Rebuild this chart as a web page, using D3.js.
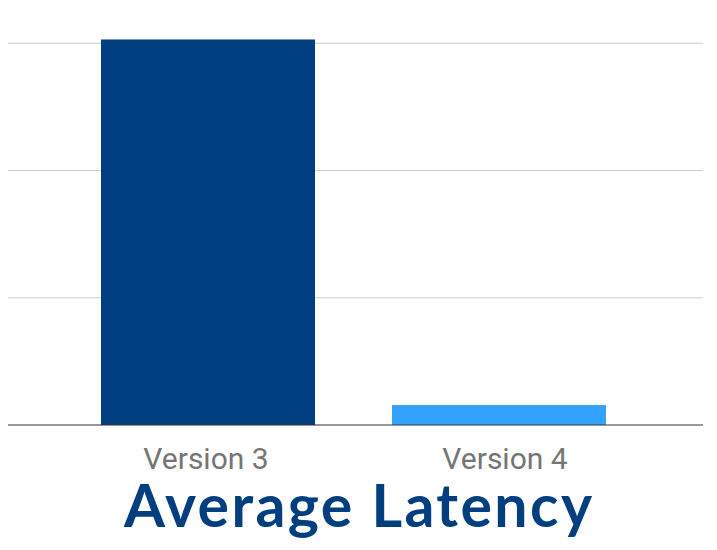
<!DOCTYPE html>
<html><head><meta charset="utf-8">
<script src="https://cdn.jsdelivr.net/npm/d3@7"></script>
<style>body{margin:0;background:#fff}svg{display:block}</style>
</head><body>
<svg id="c" width="717" height="550"></svg>
<script>
const categories = ["Version 3", "Version 4"];
const values = [3.03, 0.157];
const colors = ["#003f7f", "#33a3ff"];
const yTicks = [0, 1, 2, 3];
const title = "Average Latency";

(function () {
const svg = d3.select("#c");
const mLeft = 8, mRight = 703, mTop = 43.3, mBottom = 425;
const y = d3.scaleLinear().domain([0, 3]).range([mBottom, mTop]);
const x = d3.scaleBand().domain(categories).range([101, 606]).paddingInner(0.2646).paddingOuter(0);
const xLabel = d3.scalePoint().domain(categories).range([206, 505]);

svg.append("g").selectAll("line").data(yTicks.filter(d => d > 0)).join("line")
  .attr("x1", mLeft).attr("x2", mRight)
  .attr("y1", d => y(d)).attr("y2", d => y(d))
  .attr("stroke", "#cccccc").attr("stroke-width", 1);

svg.append("g").selectAll("rect").data(values).join("rect")
  .attr("x", (d, i) => x(categories[i]))
  .attr("width", x.bandwidth())
  .attr("y", d => y(d))
  .attr("height", d => y(0) - y(d))
  .attr("fill", (d, i) => colors[i]);

svg.append("line").attr("x1", mLeft).attr("x2", mRight)
  .attr("y1", y(0)).attr("y2", y(0))
  .attr("stroke", "#333333").attr("stroke-width", 1);

svg.append("g").selectAll("text").data(categories).join("text")
  .attr("x", d => xLabel(d))
  .attr("y", 468.5)
  .attr("text-anchor", "middle")
  .attr("font-family", "Roboto")
  .attr("font-size", 30)
  .attr("fill", "#757575")
  .text(d => d);

svg.append("text")
  .attr("x", 358).attr("y", 527)
  .attr("text-anchor", "middle")
  .attr("font-family", "Lato")
  .attr("font-weight", "bold")
  .attr("font-size", 59)
  .attr("textLength", 468)
  .attr("lengthAdjust", "spacing")
  .attr("fill", "#003f7f")
  .text(title);
})();
</script>
</body></html>
